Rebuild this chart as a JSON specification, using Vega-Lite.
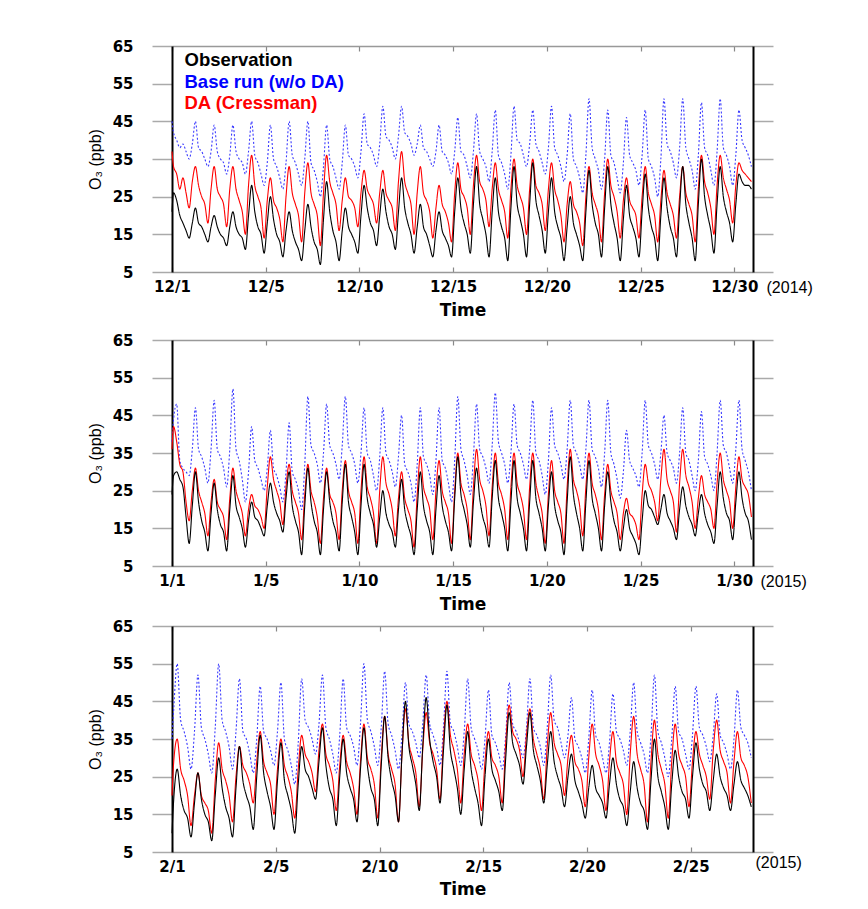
{
"$schema":"https://vega.github.io/schema/vega-lite/v6.json",
"padding":{"left":87,"top":39,"right":5,"bottom":5},
"background":"white",
"config":{"view":{"stroke":null}},
"datasets":{
"dec":[
{"h":0,"o":21,"b":45,"d":37},
{"h":2,"o":26,"b":42,"d":33},{"h":6,"o":24,"b":40,"d":31},{"h":10,"o":20,"b":38,"d":27},{"h":14,"o":18,"b":39,"d":30},{"h":18,"o":16,"b":37,"d":26},{"h":22,"o":14,"b":35,"d":22},
{"h":26,"o":18,"b":39,"d":29},{"h":30,"o":22,"b":45,"d":33},{"h":34,"o":18,"b":38,"d":28},{"h":38,"o":17,"b":37,"d":25},{"h":42,"o":15,"b":35,"d":23},{"h":46,"o":13,"b":33,"d":18},
{"h":50,"o":17,"b":37,"d":27},{"h":54,"o":20,"b":44,"d":33},{"h":58,"o":17,"b":37,"d":27},{"h":62,"o":15,"b":35,"d":25},{"h":66,"o":14,"b":34,"d":23},{"h":70,"o":12,"b":31,"d":17},
{"h":74,"o":17,"b":36,"d":27},{"h":78,"o":21,"b":44,"d":33},{"h":82,"o":17,"b":37,"d":27},{"h":86,"o":15,"b":35,"d":24},{"h":90,"o":14,"b":34,"d":21},{"h":94,"o":11,"b":31,"d":15},
{"h":98,"o":20,"b":37,"d":28},{"h":102,"o":28,"b":45,"d":36},{"h":106,"o":21,"b":36,"d":28},{"h":110,"o":17,"b":34,"d":25},{"h":114,"o":15,"b":31,"d":22},{"h":118,"o":10,"b":28,"d":14},
{"h":122,"o":18,"b":34,"d":24},{"h":126,"o":25,"b":44,"d":30},{"h":130,"o":19,"b":35,"d":24},{"h":134,"o":15,"b":33,"d":22},{"h":138,"o":13,"b":30,"d":19},{"h":142,"o":9,"b":27,"d":13},
{"h":146,"o":16,"b":34,"d":25},{"h":150,"o":21,"b":45,"d":33},{"h":154,"o":16,"b":36,"d":26},{"h":158,"o":13,"b":34,"d":23},{"h":162,"o":11,"b":31,"d":20},{"h":166,"o":8,"b":28,"d":13},
{"h":170,"o":16,"b":35,"d":26},{"h":174,"o":23,"b":45,"d":34},{"h":178,"o":17,"b":34,"d":26},{"h":182,"o":13,"b":32,"d":23},{"h":186,"o":11,"b":29,"d":20},{"h":190,"o":7,"b":25,"d":12},
{"h":194,"o":19,"b":33,"d":26},{"h":198,"o":29,"b":44,"d":36},{"h":202,"o":21,"b":35,"d":29},{"h":206,"o":16,"b":33,"d":26},{"h":210,"o":13,"b":30,"d":23},{"h":214,"o":8,"b":27,"d":16},
{"h":218,"o":16,"b":34,"d":24},{"h":222,"o":22,"b":44,"d":30},{"h":226,"o":17,"b":36,"d":25},{"h":230,"o":15,"b":35,"d":24},{"h":234,"o":13,"b":33,"d":22},{"h":238,"o":10,"b":30,"d":17},
{"h":242,"o":20,"b":37,"d":26},{"h":246,"o":28,"b":47,"d":32},{"h":250,"o":22,"b":39,"d":27},{"h":254,"o":18,"b":38,"d":25},{"h":258,"o":16,"b":36,"d":23},{"h":262,"o":12,"b":33,"d":18},
{"h":266,"o":20,"b":39,"d":26},{"h":270,"o":27,"b":49,"d":32},{"h":274,"o":21,"b":41,"d":26},{"h":278,"o":17,"b":40,"d":24},{"h":282,"o":15,"b":38,"d":22},{"h":286,"o":11,"b":35,"d":16},
{"h":290,"o":21,"b":41,"d":29},{"h":294,"o":30,"b":49,"d":37},{"h":298,"o":22,"b":42,"d":29},{"h":302,"o":18,"b":41,"d":26},{"h":306,"o":15,"b":39,"d":23},{"h":310,"o":10,"b":36,"d":15},
{"h":314,"o":17,"b":39,"d":26},{"h":318,"o":23,"b":44,"d":33},{"h":322,"o":17,"b":38,"d":26},{"h":326,"o":15,"b":37,"d":24},{"h":330,"o":12,"b":35,"d":21},{"h":334,"o":9,"b":33,"d":14},
{"h":338,"o":16,"b":37,"d":22},{"h":342,"o":21,"b":44,"d":28},{"h":346,"o":16,"b":37,"d":23},{"h":350,"o":14,"b":36,"d":21},{"h":354,"o":12,"b":34,"d":18},{"h":358,"o":9,"b":31,"d":13},
{"h":362,"o":21,"b":37,"d":26},{"h":366,"o":30,"b":46,"d":34},{"h":370,"o":22,"b":37,"d":27},{"h":374,"o":18,"b":36,"d":25},{"h":378,"o":15,"b":33,"d":22},{"h":382,"o":10,"b":30,"d":15},
{"h":386,"o":23,"b":37,"d":28},{"h":390,"o":33,"b":47,"d":36},{"h":394,"o":23,"b":37,"d":29},{"h":398,"o":19,"b":35,"d":27},{"h":402,"o":15,"b":33,"d":24},{"h":406,"o":9,"b":29,"d":17},
{"h":410,"o":21,"b":37,"d":27},{"h":414,"o":30,"b":48,"d":34},{"h":418,"o":21,"b":36,"d":27},{"h":422,"o":17,"b":34,"d":24},{"h":426,"o":14,"b":31,"d":21},{"h":430,"o":8,"b":27,"d":14},
{"h":434,"o":22,"b":36,"d":27},{"h":438,"o":33,"b":49,"d":35},{"h":442,"o":23,"b":40,"d":28},{"h":446,"o":19,"b":39,"d":25},{"h":450,"o":15,"b":36,"d":22},{"h":454,"o":9,"b":33,"d":15},
{"h":458,"o":23,"b":39,"d":27},{"h":462,"o":34,"b":48,"d":35},{"h":466,"o":24,"b":39,"d":28},{"h":470,"o":20,"b":37,"d":26},{"h":474,"o":16,"b":34,"d":23},{"h":478,"o":10,"b":31,"d":16},
{"h":482,"o":21,"b":38,"d":27},{"h":486,"o":30,"b":49,"d":34},{"h":490,"o":21,"b":38,"d":27},{"h":494,"o":17,"b":36,"d":24},{"h":498,"o":14,"b":33,"d":20},{"h":502,"o":8,"b":29,"d":13},
{"h":506,"o":17,"b":36,"d":23},{"h":510,"o":25,"b":47,"d":29},{"h":514,"o":18,"b":35,"d":23},{"h":518,"o":15,"b":33,"d":21},{"h":522,"o":12,"b":30,"d":18},{"h":526,"o":8,"b":26,"d":12},
{"h":530,"o":21,"b":36,"d":25},{"h":534,"o":32,"b":51,"d":33},{"h":538,"o":23,"b":38,"d":26},{"h":542,"o":18,"b":35,"d":23},{"h":546,"o":15,"b":32,"d":20},{"h":550,"o":9,"b":27,"d":13},
{"h":554,"o":22,"b":35,"d":26},{"h":558,"o":33,"b":48,"d":35},{"h":562,"o":23,"b":36,"d":28},{"h":566,"o":18,"b":34,"d":25},{"h":570,"o":14,"b":30,"d":21},{"h":574,"o":8,"b":26,"d":14},
{"h":578,"o":19,"b":34,"d":24},{"h":582,"o":28,"b":46,"d":30},{"h":586,"o":20,"b":36,"d":24},{"h":590,"o":17,"b":34,"d":22},{"h":594,"o":14,"b":32,"d":20},{"h":598,"o":9,"b":28,"d":14},
{"h":602,"o":21,"b":36,"d":25},{"h":606,"o":31,"b":48,"d":33},{"h":610,"o":22,"b":35,"d":26},{"h":614,"o":17,"b":33,"d":23},{"h":618,"o":14,"b":30,"d":20},{"h":622,"o":8,"b":25,"d":13},
{"h":626,"o":20,"b":35,"d":24},{"h":630,"o":30,"b":51,"d":32},{"h":634,"o":22,"b":39,"d":26},{"h":638,"o":17,"b":37,"d":23},{"h":642,"o":14,"b":34,"d":20},{"h":646,"o":9,"b":30,"d":14},
{"h":650,"o":22,"b":38,"d":25},{"h":654,"o":33,"b":51,"d":33},{"h":658,"o":23,"b":38,"d":26},{"h":662,"o":18,"b":35,"d":23},{"h":666,"o":14,"b":32,"d":20},{"h":670,"o":8,"b":27,"d":13},
{"h":674,"o":23,"b":36,"d":27},{"h":678,"o":35,"b":50,"d":36},{"h":682,"o":25,"b":38,"d":29},{"h":686,"o":20,"b":36,"d":26},{"h":690,"o":16,"b":32,"d":22},{"h":694,"o":10,"b":28,"d":15},
{"h":698,"o":23,"b":37,"d":28},{"h":702,"o":33,"b":51,"d":36},{"h":706,"o":25,"b":38,"d":30},{"h":710,"o":21,"b":36,"d":27},{"h":714,"o":18,"b":33,"d":24},{"h":718,"o":13,"b":28,"d":18},
{"h":722,"o":23,"b":36,"d":28},{"h":726,"o":31,"b":48,"d":34},{"h":730,"o":29,"b":40,"d":32},{"h":734,"o":28,"b":38,"d":31},{"h":738,"o":28,"b":36,"d":30},{"h":742,"o":27,"b":33,"d":29}
],
"jan":[
{"h":0,"o":24,"b":38,"d":36},
{"h":2,"o":29,"b":44,"d":42},{"h":6,"o":30,"b":48,"d":38},{"h":10,"o":28,"b":33,"d":32},{"h":14,"o":26,"b":31,"d":30},{"h":18,"o":18,"b":30,"d":22},{"h":22,"o":11,"b":29,"d":17},
{"h":26,"o":21,"b":36,"d":25},{"h":30,"o":30,"b":47,"d":31},{"h":34,"o":22,"b":36,"d":25},{"h":38,"o":17,"b":34,"d":22},{"h":42,"o":14,"b":31,"d":19},{"h":46,"o":9,"b":27,"d":13},
{"h":50,"o":19,"b":36,"d":22},{"h":54,"o":27,"b":49,"d":28},{"h":58,"o":20,"b":36,"d":22},{"h":62,"o":16,"b":34,"d":20},{"h":66,"o":14,"b":31,"d":18},{"h":70,"o":9,"b":26,"d":12},
{"h":74,"o":20,"b":36,"d":23},{"h":78,"o":29,"b":52,"d":31},{"h":82,"o":21,"b":36,"d":25},{"h":86,"o":18,"b":33,"d":22},{"h":90,"o":15,"b":28,"d":19},{"h":94,"o":10,"b":22,"d":13},
{"h":98,"o":17,"b":30,"d":20},{"h":102,"o":22,"b":42,"d":24},{"h":106,"o":18,"b":33,"d":21},{"h":110,"o":17,"b":31,"d":20},{"h":114,"o":15,"b":28,"d":18},{"h":118,"o":13,"b":25,"d":15},
{"h":122,"o":21,"b":31,"d":26},{"h":126,"o":27,"b":41,"d":34},{"h":130,"o":22,"b":31,"d":28},{"h":134,"o":19,"b":29,"d":25},{"h":138,"o":17,"b":26,"d":22},{"h":142,"o":14,"b":22,"d":16},
{"h":146,"o":23,"b":30,"d":26},{"h":150,"o":30,"b":43,"d":32},{"h":154,"o":21,"b":30,"d":25},{"h":158,"o":17,"b":28,"d":22},{"h":162,"o":14,"b":25,"d":19},{"h":166,"o":8,"b":20,"d":12},
{"h":170,"o":21,"b":32,"d":24},{"h":174,"o":31,"b":50,"d":32},{"h":178,"o":22,"b":37,"d":25},{"h":182,"o":17,"b":35,"d":22},{"h":186,"o":14,"b":32,"d":18},{"h":190,"o":8,"b":27,"d":11},
{"h":194,"o":20,"b":35,"d":23},{"h":198,"o":30,"b":48,"d":31},{"h":202,"o":22,"b":37,"d":24},{"h":206,"o":17,"b":35,"d":22},{"h":210,"o":14,"b":32,"d":19},{"h":214,"o":9,"b":28,"d":12},
{"h":218,"o":22,"b":37,"d":25},{"h":222,"o":32,"b":50,"d":33},{"h":226,"o":22,"b":37,"d":25},{"h":230,"o":18,"b":35,"d":22},{"h":234,"o":14,"b":32,"d":19},{"h":238,"o":8,"b":27,"d":11},
{"h":242,"o":21,"b":35,"d":25},{"h":246,"o":32,"b":47,"d":34},{"h":250,"o":23,"b":35,"d":26},{"h":254,"o":19,"b":33,"d":23},{"h":258,"o":16,"b":29,"d":19},{"h":262,"o":10,"b":25,"d":11},
{"h":266,"o":18,"b":34,"d":25},{"h":270,"o":25,"b":47,"d":34},{"h":274,"o":19,"b":35,"d":27},{"h":278,"o":16,"b":33,"d":24},{"h":282,"o":14,"b":30,"d":20},{"h":286,"o":10,"b":26,"d":13},
{"h":290,"o":20,"b":34,"d":23},{"h":294,"o":28,"b":45,"d":30},{"h":298,"o":20,"b":32,"d":23},{"h":302,"o":16,"b":30,"d":20},{"h":306,"o":13,"b":27,"d":17},{"h":310,"o":8,"b":22,"d":10},
{"h":314,"o":20,"b":32,"d":24},{"h":318,"o":30,"b":47,"d":34},{"h":322,"o":21,"b":34,"d":26},{"h":326,"o":17,"b":32,"d":23},{"h":330,"o":14,"b":29,"d":20},{"h":334,"o":8,"b":24,"d":12},
{"h":338,"o":20,"b":33,"d":25},{"h":342,"o":29,"b":47,"d":33},{"h":346,"o":21,"b":33,"d":25},{"h":350,"o":17,"b":31,"d":22},{"h":354,"o":14,"b":27,"d":19},{"h":358,"o":9,"b":22,"d":11},
{"h":362,"o":23,"b":33,"d":25},{"h":366,"o":34,"b":50,"d":35},{"h":370,"o":24,"b":36,"d":27},{"h":374,"o":20,"b":33,"d":24},{"h":378,"o":16,"b":29,"d":20},{"h":382,"o":10,"b":24,"d":12},
{"h":386,"o":22,"b":34,"d":26},{"h":390,"o":31,"b":48,"d":36},{"h":394,"o":23,"b":36,"d":28},{"h":398,"o":18,"b":34,"d":25},{"h":402,"o":15,"b":31,"d":21},{"h":406,"o":10,"b":27,"d":13},
{"h":410,"o":23,"b":37,"d":26},{"h":414,"o":33,"b":51,"d":35},{"h":418,"o":23,"b":38,"d":27},{"h":422,"o":19,"b":35,"d":24},{"h":426,"o":15,"b":32,"d":20},{"h":430,"o":9,"b":27,"d":12},
{"h":434,"o":22,"b":35,"d":26},{"h":438,"o":33,"b":48,"d":35},{"h":442,"o":23,"b":37,"d":27},{"h":446,"o":19,"b":35,"d":24},{"h":450,"o":15,"b":32,"d":20},{"h":454,"o":9,"b":28,"d":12},
{"h":458,"o":22,"b":36,"d":26},{"h":462,"o":33,"b":49,"d":35},{"h":466,"o":23,"b":35,"d":27},{"h":470,"o":19,"b":33,"d":23},{"h":474,"o":15,"b":29,"d":19},{"h":478,"o":9,"b":24,"d":11},
{"h":482,"o":21,"b":33,"d":24},{"h":486,"o":30,"b":47,"d":33},{"h":490,"o":21,"b":37,"d":25},{"h":494,"o":17,"b":35,"d":22},{"h":498,"o":14,"b":32,"d":19},{"h":502,"o":8,"b":28,"d":11},
{"h":506,"o":22,"b":36,"d":26},{"h":510,"o":34,"b":49,"d":36},{"h":514,"o":24,"b":37,"d":28},{"h":518,"o":19,"b":35,"d":25},{"h":522,"o":15,"b":32,"d":21},{"h":526,"o":9,"b":28,"d":13},
{"h":530,"o":22,"b":36,"d":26},{"h":534,"o":33,"b":49,"d":35},{"h":538,"o":23,"b":36,"d":27},{"h":542,"o":19,"b":34,"d":24},{"h":546,"o":15,"b":31,"d":20},{"h":550,"o":9,"b":26,"d":12},
{"h":554,"o":21,"b":35,"d":24},{"h":558,"o":30,"b":49,"d":32},{"h":562,"o":22,"b":35,"d":25},{"h":566,"o":17,"b":32,"d":22},{"h":570,"o":14,"b":28,"d":19},{"h":574,"o":9,"b":23,"d":12},
{"h":578,"o":15,"b":30,"d":19},{"h":582,"o":20,"b":41,"d":23},{"h":586,"o":15,"b":33,"d":19},{"h":590,"o":13,"b":31,"d":18},{"h":594,"o":11,"b":29,"d":16},{"h":598,"o":8,"b":26,"d":12},
{"h":602,"o":17,"b":35,"d":24},{"h":606,"o":25,"b":49,"d":32},{"h":610,"o":21,"b":37,"d":27},{"h":614,"o":20,"b":35,"d":25},{"h":618,"o":18,"b":32,"d":22},{"h":622,"o":16,"b":28,"d":17},
{"h":626,"o":20,"b":35,"d":28},{"h":630,"o":24,"b":45,"d":36},{"h":634,"o":19,"b":35,"d":28},{"h":638,"o":17,"b":33,"d":25},{"h":642,"o":15,"b":31,"d":22},{"h":646,"o":12,"b":27,"d":14},
{"h":650,"o":20,"b":35,"d":27},{"h":654,"o":26,"b":47,"d":36},{"h":658,"o":21,"b":35,"d":29},{"h":662,"o":18,"b":33,"d":26},{"h":666,"o":16,"b":29,"d":22},{"h":670,"o":13,"b":25,"d":15},
{"h":674,"o":19,"b":33,"d":23},{"h":678,"o":24,"b":46,"d":29},{"h":682,"o":19,"b":34,"d":24},{"h":686,"o":16,"b":32,"d":22},{"h":690,"o":14,"b":29,"d":20},{"h":694,"o":11,"b":25,"d":15},
{"h":698,"o":21,"b":35,"d":27},{"h":702,"o":30,"b":49,"d":35},{"h":706,"o":23,"b":37,"d":28},{"h":710,"o":19,"b":35,"d":25},{"h":714,"o":17,"b":31,"d":22},{"h":718,"o":12,"b":27,"d":15},
{"h":722,"o":22,"b":36,"d":26},{"h":726,"o":30,"b":49,"d":34},{"h":730,"o":23,"b":36,"d":28},{"h":734,"o":19,"b":33,"d":26},{"h":738,"o":17,"b":30,"d":24},{"h":742,"o":12,"b":25,"d":18}
],
"feb":[
{"h":0,"o":10,"b":35,"d":20},
{"h":2,"o":19,"b":43,"d":29},{"h":6,"o":27,"b":55,"d":35},{"h":10,"o":20,"b":40,"d":27},{"h":14,"o":16,"b":37,"d":24},{"h":18,"o":14,"b":33,"d":20},{"h":22,"o":9,"b":27,"d":12},
{"h":26,"o":18,"b":37,"d":20},{"h":30,"o":26,"b":52,"d":26},{"h":34,"o":19,"b":38,"d":20},{"h":38,"o":15,"b":35,"d":18},{"h":42,"o":13,"b":31,"d":16},{"h":46,"o":8,"b":26,"d":10},
{"h":50,"o":20,"b":38,"d":24},{"h":54,"o":30,"b":55,"d":34},{"h":58,"o":22,"b":40,"d":27},{"h":62,"o":17,"b":37,"d":24},{"h":66,"o":14,"b":33,"d":20},{"h":70,"o":9,"b":27,"d":13},
{"h":74,"o":22,"b":37,"d":25},{"h":78,"o":33,"b":51,"d":33},{"h":82,"o":24,"b":37,"d":28},{"h":86,"o":20,"b":35,"d":26},{"h":90,"o":17,"b":31,"d":23},{"h":94,"o":11,"b":26,"d":18},
{"h":98,"o":25,"b":35,"d":29},{"h":102,"o":36,"b":49,"d":37},{"h":106,"o":26,"b":37,"d":29},{"h":110,"o":21,"b":35,"d":26},{"h":114,"o":17,"b":32,"d":23},{"h":118,"o":11,"b":28,"d":15},
{"h":122,"o":24,"b":37,"d":27},{"h":126,"o":34,"b":50,"d":35},{"h":130,"o":24,"b":35,"d":28},{"h":134,"o":20,"b":32,"d":25},{"h":138,"o":16,"b":28,"d":21},{"h":142,"o":10,"b":23,"d":14},
{"h":146,"o":23,"b":34,"d":27},{"h":150,"o":33,"b":51,"d":36},{"h":154,"o":27,"b":40,"d":31},{"h":158,"o":25,"b":38,"d":29},{"h":162,"o":22,"b":35,"d":26},{"h":166,"o":19,"b":31,"d":21},
{"h":170,"o":29,"b":39,"d":32},{"h":174,"o":38,"b":52,"d":39},{"h":178,"o":28,"b":38,"d":31},{"h":182,"o":22,"b":35,"d":28},{"h":186,"o":19,"b":31,"d":24},{"h":190,"o":12,"b":26,"d":16},
{"h":194,"o":25,"b":36,"d":28},{"h":198,"o":35,"b":51,"d":36},{"h":202,"o":26,"b":38,"d":29},{"h":206,"o":22,"b":36,"d":26},{"h":210,"o":19,"b":33,"d":22},{"h":214,"o":13,"b":28,"d":15},
{"h":218,"o":27,"b":39,"d":29},{"h":222,"o":38,"b":55,"d":39},{"h":226,"o":28,"b":40,"d":30},{"h":230,"o":22,"b":37,"d":27},{"h":234,"o":19,"b":33,"d":23},{"h":238,"o":12,"b":28,"d":14},
{"h":242,"o":28,"b":38,"d":30},{"h":246,"o":41,"b":53,"d":41},{"h":250,"o":30,"b":39,"d":31},{"h":254,"o":24,"b":36,"d":27},{"h":258,"o":20,"b":32,"d":23},{"h":262,"o":13,"b":27,"d":13},
{"h":266,"o":31,"b":36,"d":31},{"h":270,"o":45,"b":50,"d":43},{"h":274,"o":33,"b":39,"d":34},{"h":278,"o":28,"b":37,"d":30},{"h":282,"o":23,"b":34,"d":26},{"h":286,"o":16,"b":30,"d":17},
{"h":290,"o":33,"b":39,"d":32},{"h":294,"o":46,"b":52,"d":42},{"h":298,"o":35,"b":39,"d":34},{"h":302,"o":29,"b":36,"d":31},{"h":306,"o":25,"b":33,"d":27},{"h":310,"o":18,"b":28,"d":19},
{"h":314,"o":32,"b":38,"d":35},{"h":318,"o":44,"b":53,"d":45},{"h":322,"o":32,"b":39,"d":36},{"h":326,"o":27,"b":37,"d":32},{"h":330,"o":22,"b":33,"d":27},{"h":334,"o":15,"b":28,"d":18},
{"h":338,"o":27,"b":37,"d":31},{"h":342,"o":37,"b":51,"d":39},{"h":346,"o":27,"b":38,"d":31},{"h":350,"o":22,"b":35,"d":28},{"h":354,"o":18,"b":32,"d":24},{"h":358,"o":12,"b":27,"d":16},
{"h":362,"o":25,"b":35,"d":29},{"h":366,"o":35,"b":48,"d":37},{"h":370,"o":27,"b":36,"d":30},{"h":374,"o":24,"b":34,"d":28},{"h":378,"o":21,"b":31,"d":25},{"h":382,"o":16,"b":27,"d":18},
{"h":386,"o":30,"b":36,"d":34},{"h":390,"o":42,"b":50,"d":44},{"h":394,"o":34,"b":39,"d":37},{"h":398,"o":31,"b":37,"d":35},{"h":402,"o":28,"b":34,"d":32},{"h":406,"o":23,"b":30,"d":25},
{"h":410,"o":33,"b":38,"d":36},{"h":414,"o":42,"b":51,"d":43},{"h":418,"o":32,"b":38,"d":35},{"h":422,"o":28,"b":36,"d":31},{"h":426,"o":24,"b":33,"d":27},{"h":430,"o":18,"b":28,"d":19},
{"h":434,"o":28,"b":38,"d":33},{"h":438,"o":37,"b":52,"d":42},{"h":442,"o":29,"b":40,"d":34},{"h":446,"o":25,"b":38,"d":31},{"h":450,"o":22,"b":34,"d":28},{"h":454,"o":17,"b":30,"d":20},
{"h":458,"o":25,"b":36,"d":30},{"h":462,"o":31,"b":46,"d":36},{"h":466,"o":24,"b":35,"d":29},{"h":470,"o":21,"b":33,"d":27},{"h":474,"o":18,"b":30,"d":24},{"h":478,"o":14,"b":26,"d":17},
{"h":482,"o":22,"b":35,"d":30},{"h":486,"o":28,"b":48,"d":39},{"h":490,"o":22,"b":36,"d":31},{"h":494,"o":20,"b":34,"d":28},{"h":498,"o":18,"b":30,"d":24},{"h":502,"o":14,"b":26,"d":16},
{"h":506,"o":23,"b":34,"d":29},{"h":510,"o":30,"b":47,"d":37},{"h":514,"o":23,"b":37,"d":29},{"h":518,"o":19,"b":35,"d":26},{"h":522,"o":17,"b":32,"d":23},{"h":526,"o":12,"b":28,"d":15},
{"h":530,"o":21,"b":37,"d":31},{"h":534,"o":29,"b":50,"d":41},{"h":538,"o":22,"b":37,"d":31},{"h":542,"o":18,"b":34,"d":27},{"h":546,"o":16,"b":31,"d":23},{"h":550,"o":11,"b":26,"d":13},
{"h":554,"o":24,"b":36,"d":29},{"h":558,"o":35,"b":52,"d":40},{"h":562,"o":25,"b":37,"d":31},{"h":566,"o":21,"b":34,"d":27},{"h":570,"o":17,"b":30,"d":23},{"h":574,"o":11,"b":25,"d":14},
{"h":578,"o":23,"b":35,"d":29},{"h":582,"o":32,"b":49,"d":39},{"h":586,"o":25,"b":37,"d":31},{"h":590,"o":21,"b":35,"d":28},{"h":594,"o":19,"b":31,"d":25},{"h":598,"o":14,"b":27,"d":17},
{"h":602,"o":25,"b":36,"d":29},{"h":606,"o":34,"b":49,"d":37},{"h":610,"o":27,"b":38,"d":31},{"h":614,"o":23,"b":36,"d":28},{"h":618,"o":21,"b":33,"d":25},{"h":622,"o":16,"b":29,"d":19},
{"h":626,"o":24,"b":36,"d":32},{"h":630,"o":31,"b":47,"d":40},{"h":634,"o":25,"b":36,"d":32},{"h":638,"o":22,"b":34,"d":29},{"h":642,"o":20,"b":31,"d":26},{"h":646,"o":16,"b":27,"d":18},
{"h":650,"o":23,"b":35,"d":29},{"h":654,"o":29,"b":48,"d":37},{"h":658,"o":24,"b":38,"d":30},{"h":662,"o":22,"b":36,"d":28},{"h":666,"o":20,"b":34,"d":25},{"h":670,"o":17,"b":30,"d":18}
]
},
"resolve":{"scale":{"color":"independent","strokeDash":"independent"}},
"spacing":7,
"vconcat":[
{
"resolve":{"scale":{"color":"independent","strokeDash":"independent"}},
"spacing":15,
"vconcat":[
{
"width":581,"height":226,
"data":{"name":"dec"},
"transform":[{"fold":["b","d","o"],"as":["s","v"]}],
"layer":[
{
"mark":{"type":"line","strokeWidth":1.1,"interpolate":"monotone"},
"encoding":{
"x":{"field":"h","type":"quantitative","scale":{"domain":[0,744],"nice":false,"zero":false},
"axis":{"values":[0,120,240,360,480,600,720,744],
"labelExpr":"datum.value==744?'(2014)':'12/'+(datum.value==0?1:datum.value/24)",
"title":"Time","titleFont":"DejaVu Sans","titleFontWeight":"bold","titleFontSize":17,"titleColor":"#000","titlePadding":7,
"labelFont":{"condition":{"test":"datum.value==744","value":"Liberation Sans"},"value":"DejaVu Sans"},
"labelFontWeight":{"condition":{"test":"datum.value==744","value":"normal"},"value":"bold"},
"labelFontSize":{"condition":{"test":"datum.value==744","value":16},"value":15},
"labelAlign":{"condition":{"test":"datum.value==744","value":"left"},"value":"center"},
"labelOffset":{"condition":{"test":"datum.value==744","value":13},"value":0},
"labelColor":"#000","labelPadding":12,"labelFlush":false,"labelOverlap":false,"labelBound":false,
"tickSize":-5,"tickColor":{"condition":{"test":"datum.value==744","value":"transparent"},"value":"#888"},"tickWidth":1.2,
"domainColor":"#999","domainWidth":1.5,"grid":false}},
"y":{"field":"v","type":"quantitative","scale":{"domain":[5,65],"nice":false,"zero":false},
"axis":{"values":[5,15,25,35,45,55,65],"title":"O₃ (ppb)","titleFont":"Liberation Sans","titleFontWeight":"normal","titleFontSize":16,"titleColor":"#000","titlePadding":9,
"labelFont":"DejaVu Sans","labelFontWeight":"bold","labelFontSize":15,"labelColor":"#000","labelPadding":19,
"tickSize":20,"tickColor":"#aaa","tickWidth":1.5,"domainColor":"#000","domainWidth":2,"grid":false}},
"color":{"field":"s","type":"nominal","scale":{"domain":["o","b","d"],"range":["#000000","#3a3aff","#ff0000"]},
"legend":{"orient":"top-left","title":null,"offset":5,"padding":0,"labelOffset":-11,"symbolSize":0,"symbolOpacity":0,"symbolStrokeWidth":0,
"labelFont":"Liberation Sans","labelFontWeight":"bold","labelFontSize":18.5,"rowPadding":2.5,"labelLimit":400,
"labelExpr":"datum.value=='o'?'Observation':datum.value=='b'?'Base run (w/o DA)':'DA (Cressman)'",
"encode":{"labels":{"update":{"fill":{"signal":"datum.value=='o'?'#000000':datum.value=='b'?'#0000ff':'#ff0000'"}}}}}},
"strokeDash":{"field":"s","type":"nominal","scale":{"domain":["o","b","d"],"range":[[1,0],[2,2],[1,0]]},"legend":null}
}
},
{
"transform":[{"filter":"datum.s=='o'"}],
"mark":{"type":"line","opacity":0},
"encoding":{
"x":{"field":"h","type":"quantitative","axis":{"orient":"top","values":[0,120,240,360,480,600,720],"labels":false,"title":null,"tickSize":-5,"tickColor":"#888","tickWidth":1.2,"domainColor":"#999","domainWidth":1.5,"grid":false}},
"y":{"field":"v","type":"quantitative","axis":{"orient":"right","values":[5,15,25,35,45,55,65],"labels":false,"title":null,"tickSize":20,"tickColor":"#aaa","tickWidth":1.5,"domainColor":"#000","domainWidth":2,"grid":false}}
}
}
],
"resolve":{"axis":{"x":"independent","y":"independent"}}
},
{
"width":581,"height":226,
"data":{"name":"jan"},
"transform":[{"fold":["b","d","o"],"as":["s","v"]}],
"layer":[
{
"mark":{"type":"line","strokeWidth":1.1,"interpolate":"monotone"},
"encoding":{
"x":{"field":"h","type":"quantitative","scale":{"domain":[0,744],"nice":false,"zero":false},
"axis":{"values":[0,120,240,360,480,600,720,744],
"labelExpr":"datum.value==744?'(2015)':'1/'+(datum.value==0?1:datum.value/24)",
"title":"Time","titleFont":"DejaVu Sans","titleFontWeight":"bold","titleFontSize":17,"titleColor":"#000","titlePadding":7,
"labelFont":{"condition":{"test":"datum.value==744","value":"Liberation Sans"},"value":"DejaVu Sans"},
"labelFontWeight":{"condition":{"test":"datum.value==744","value":"normal"},"value":"bold"},
"labelFontSize":{"condition":{"test":"datum.value==744","value":16},"value":15},
"labelAlign":{"condition":{"test":"datum.value==744","value":"left"},"value":"center"},
"labelOffset":{"condition":{"test":"datum.value==744","value":7},"value":0},
"labelColor":"#000","labelPadding":12,"labelFlush":false,"labelOverlap":false,"labelBound":false,
"tickSize":-5,"tickColor":{"condition":{"test":"datum.value==744","value":"transparent"},"value":"#888"},"tickWidth":1.2,
"domainColor":"#999","domainWidth":1.5,"grid":false}},
"y":{"field":"v","type":"quantitative","scale":{"domain":[5,65],"nice":false,"zero":false},
"axis":{"values":[5,15,25,35,45,55,65],"title":"O₃ (ppb)","titleFont":"Liberation Sans","titleFontWeight":"normal","titleFontSize":16,"titleColor":"#000","titlePadding":9,
"labelFont":"DejaVu Sans","labelFontWeight":"bold","labelFontSize":15,"labelColor":"#000","labelPadding":19,
"tickSize":20,"tickColor":"#aaa","tickWidth":1.5,"domainColor":"#000","domainWidth":2,"grid":false}},
"color":{"field":"s","type":"nominal","scale":{"domain":["o","b","d"],"range":["#000000","#3a3aff","#ff0000"]},"legend":null},
"strokeDash":{"field":"s","type":"nominal","scale":{"domain":["o","b","d"],"range":[[1,0],[2,2],[1,0]]},"legend":null}
}
},
{
"transform":[{"filter":"datum.s=='o'"}],
"mark":{"type":"line","opacity":0},
"encoding":{
"x":{"field":"h","type":"quantitative","axis":{"orient":"top","values":[0,120,240,360,480,600,720],"labels":false,"title":null,"tickSize":-5,"tickColor":"#888","tickWidth":1.2,"domainColor":"#999","domainWidth":1.5,"grid":false}},
"y":{"field":"v","type":"quantitative","axis":{"orient":"right","values":[5,15,25,35,45,55,65],"labels":false,"title":null,"tickSize":20,"tickColor":"#aaa","tickWidth":1.5,"domainColor":"#000","domainWidth":2,"grid":false}}
}
}
],
"resolve":{"axis":{"x":"independent","y":"independent"}}
}
]
},
{
"width":581,"height":226,
"data":{"name":"feb"},
"transform":[{"fold":["b","d","o"],"as":["s","v"]}],
"layer":[
{
"mark":{"type":"line","strokeWidth":1.1,"interpolate":"monotone"},
"encoding":{
"x":{"field":"h","type":"quantitative","scale":{"domain":[0,672],"nice":false,"zero":false},
"axis":{"values":[0,120,240,360,480,600,672],
"labelExpr":"datum.value==672?'(2015)':'2/'+(datum.value==0?1:datum.value/24)",
"title":"Time","titleFont":"DejaVu Sans","titleFontWeight":"bold","titleFontSize":17,"titleColor":"#000","titlePadding":7,
"labelFont":{"condition":{"test":"datum.value==672","value":"Liberation Sans"},"value":"DejaVu Sans"},
"labelFontWeight":{"condition":{"test":"datum.value==672","value":"normal"},"value":"bold"},
"labelFontSize":{"condition":{"test":"datum.value==672","value":16},"value":15},
"labelAlign":{"condition":{"test":"datum.value==672","value":"left"},"value":"center"},
"labelOffset":{"condition":{"test":"datum.value==672","value":2},"value":0},
"labelPadding":{"condition":{"test":"datum.value==672","value":7},"value":12},
"labelColor":"#000","labelFlush":false,"labelOverlap":false,"labelBound":false,
"tickSize":-5,"tickColor":{"condition":{"test":"datum.value==672","value":"transparent"},"value":"#888"},"tickWidth":1.2,
"domainColor":"#999","domainWidth":1.5,"grid":false}},
"y":{"field":"v","type":"quantitative","scale":{"domain":[5,65],"nice":false,"zero":false},
"axis":{"values":[5,15,25,35,45,55,65],"title":"O₃ (ppb)","titleFont":"Liberation Sans","titleFontWeight":"normal","titleFontSize":16,"titleColor":"#000","titlePadding":9,
"labelFont":"DejaVu Sans","labelFontWeight":"bold","labelFontSize":15,"labelColor":"#000","labelPadding":19,
"tickSize":20,"tickColor":"#aaa","tickWidth":1.5,"domainColor":"#000","domainWidth":2,"grid":false}},
"color":{"field":"s","type":"nominal","scale":{"domain":["o","b","d"],"range":["#000000","#3a3aff","#ff0000"]},"legend":null},
"strokeDash":{"field":"s","type":"nominal","scale":{"domain":["o","b","d"],"range":[[1,0],[2,2],[1,0]]},"legend":null}
}
},
{
"transform":[{"filter":"datum.s=='o'"}],
"mark":{"type":"line","opacity":0},
"encoding":{
"x":{"field":"h","type":"quantitative","axis":{"orient":"top","values":[0,120,240,360,480,600],"labels":false,"title":null,"tickSize":-5,"tickColor":"#888","tickWidth":1.2,"domainColor":"#999","domainWidth":1.5,"grid":false}},
"y":{"field":"v","type":"quantitative","axis":{"orient":"right","values":[5,15,25,35,45,55,65],"labels":false,"title":null,"tickSize":20,"tickColor":"#aaa","tickWidth":1.5,"domainColor":"#000","domainWidth":2,"grid":false}}
}
}
],
"resolve":{"axis":{"x":"independent","y":"independent"}}
}
]
}
